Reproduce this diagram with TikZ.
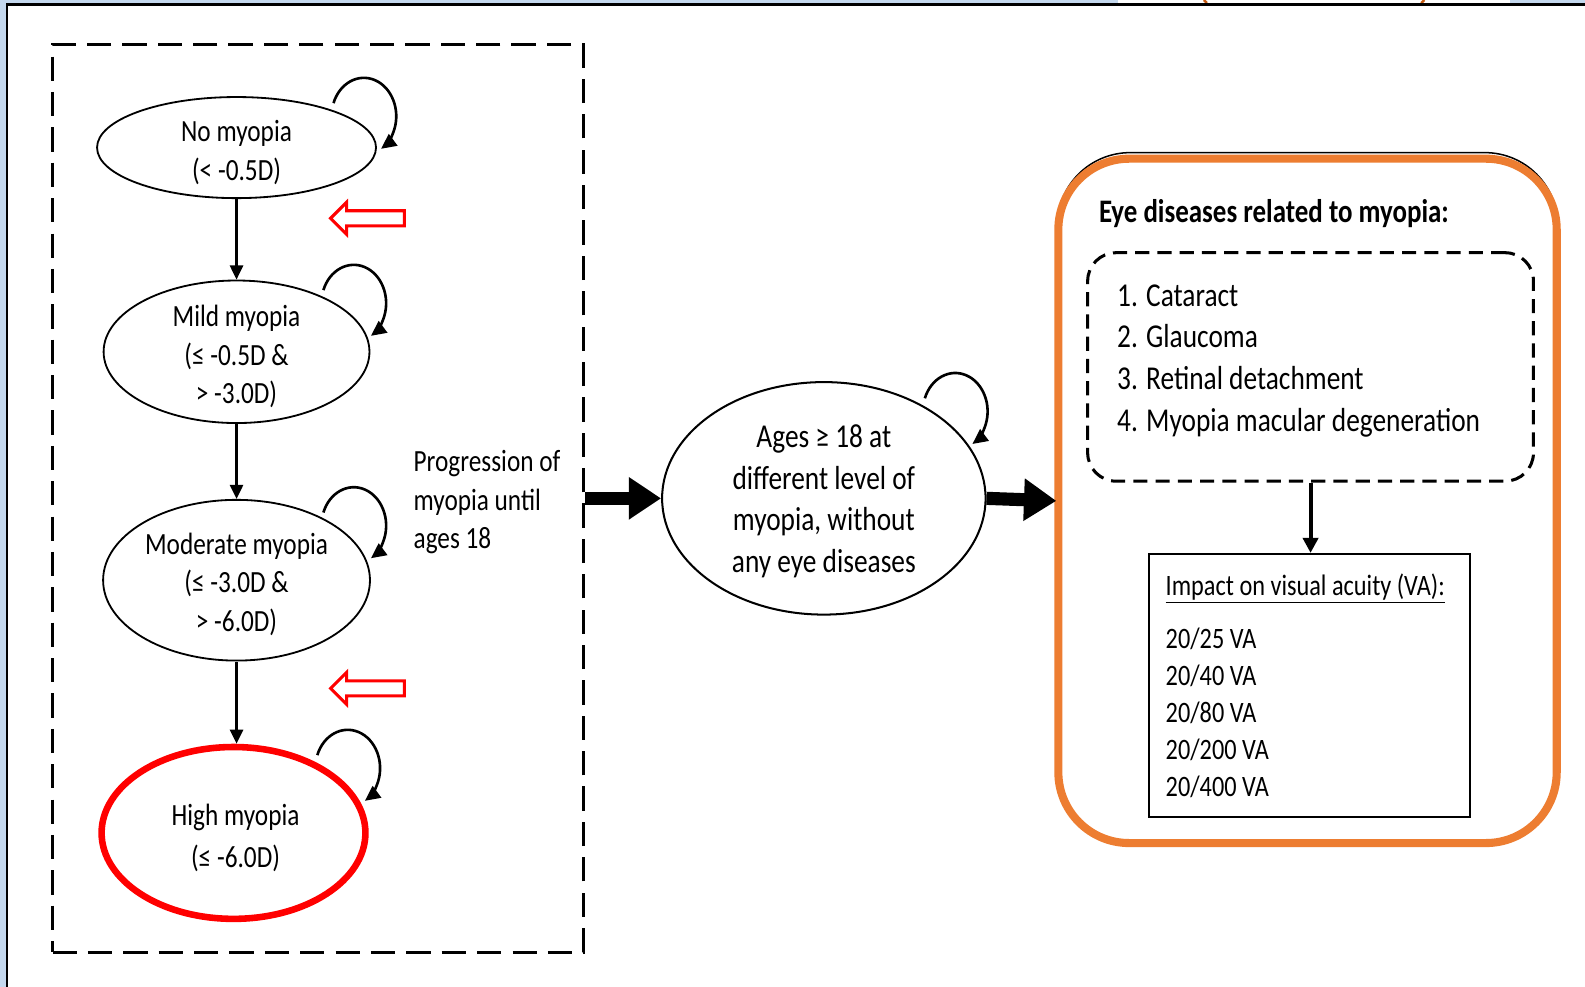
\documentclass[tikz,border=0pt]{standalone}
\usepackage{fontspec}
\setmainfont{Carlito}[FakeStretch=0.82]
\usetikzlibrary{arrows.meta,shapes.geometric,calc}
\definecolor{boxorange}{RGB}{237,125,49}
\definecolor{darkorange}{RGB}{197,90,17}
\definecolor{frameblue}{RGB}{196,216,238}
\newcommand\selfloop[3]{\draw[loopline] ($(#1.center)+(#2,#3)$) ++(200:32 and 38) arc[start angle=200, end angle=418, x radius=32, y radius=38];}
\begin{document}
\begin{tikzpicture}[x=1pt,y=-1pt,
  txt/.style={inner sep=0pt, align=center, font=\fontsize{30.5}{38}\selectfont},
  state/.style={ellipse, draw, line width=1.8pt, inner sep=0pt},
  flow/.style={line width=2.4pt, -{Triangle[length=14pt,width=13pt]}},
  bigflow/.style={line width=13pt, -{Triangle[length=32pt,width=40pt]}},
  loopline/.style={line width=2.6pt, -{Triangle[length=15pt,width=14pt]}},
  hollow/.style={draw=red, line width=3pt, fill=white, line join=miter},
]
\path[use as bounding box] (0,0) rectangle (1568,976);
\fill[white] (0,0) rectangle (1568,976);
\fill[frameblue] (0,0) rectangle (6,976);
\fill[frameblue] (0,0) rectangle (1568,3);
\fill[white] (1106,0) rectangle (1494,3);
\draw[darkorange, line width=2.5pt] (1191,0) -- (1194,3);
\draw[darkorange, line width=2.5pt] (1409,0) -- (1406,3);
\draw[black, line width=2pt] (7,3) -- (7,976);
\draw[black, line width=3pt] (6,4.5) -- (1568,4.5);

% progression block
\node[draw, dash pattern=on 24pt off 11pt, line width=3pt, minimum width=525pt, minimum height=898pt, inner sep=0pt] (prog) at (314.5,493) {};

\node[state, minimum width=276pt, minimum height=100pt] (s1) at (234,146) {};
\node[txt] (t1) at (234,151) {No myopia\\(< -0.5D)};
\node[state, minimum width=263pt, minimum height=141pt] (s2) at (234,348) {};
\node[txt] (t2) at (234,353) {Mild myopia\\(≤ -0.5D \&\\> -3.0D)};
\node[state, minimum width=264pt, minimum height=159pt] (s3) at (234,574) {};
\node[txt] (t3) at (234,578) {Moderate myopia\\(≤ -3.0D \&\\> -6.0D)};
\node[state, draw=red, line width=6.5pt, minimum width=261pt, minimum height=170pt] (s4) at (231,824) {};
\node[txt, font=\fontsize{30.5}{41}\selectfont] (t4) at (233,829) {High myopia\\(≤ -6.0D)};

\draw[flow] (s1.south) -- (s2.north);
\draw[flow] (s2.south) -- (s3.north);
\draw[flow] (s3.south) -- (s3.south |- s4.north);

\selfloop{s1}{126}{-31}
\selfloop{s2}{116}{-48}
\selfloop{s3}{116}{-54}
\selfloop{s4}{113}{-64}

\draw[hollow] (327,216) -- (343,200) -- (343,208.5) -- (400,208.5) -- (400,223.5) -- (343,223.5) -- (343,232) -- cycle;
\draw[hollow] (327,681) -- (343,665) -- (343,673.5) -- (400,673.5) -- (400,688.5) -- (343,688.5) -- (343,697) -- cycle;

\node[inner sep=0pt, align=left, anchor=west, font=\fontsize{30.5}{38}\selectfont] (ptxt) at (409,497) {Progression of\\myopia until\\ages 18};

% middle state
\node[state, line width=2pt, minimum width=320pt, minimum height=230pt] (mid) at (815,493) {};
\node[txt, font=\fontsize{33}{41.3}\selectfont] (tm) at (815,496) {Ages ≥ 18 at\\different level of\\myopia, without\\any eye diseases};
\selfloop{mid}{130}{-86}

% eye diseases box
\draw[line width=1.5pt, rounded corners=72pt] (1046,151) rectangle (1541,834);
\node[draw=boxorange, line width=8pt, rounded corners=70pt, minimum width=493pt, minimum height=677pt, inner sep=0pt] (eye) at (1293.5,495.5) {};
\node[inner sep=0pt, anchor=west, font=\bfseries\fontsize{32.5}{40}\selectfont] (title) at (1087,211) {Eye diseases related to myopia:};
\node[draw, dash pattern=on 14pt off 8pt, line width=3pt, rounded corners=28pt, minimum width=441pt, minimum height=226pt, inner sep=0pt] (dis) at (1296.5,363) {};
\node[inner sep=0pt, align=left, anchor=west, font=\fontsize{33}{41.3}\selectfont] (list) at (1105,357) {1. Cataract\\2. Glaucoma\\3. Retinal detachment\\4. Myopia macular degeneration};
\node[draw, line width=2pt, minimum width=317pt, minimum height=260pt, inner sep=0pt] (imp) at (1295.5,678) {};
\node[inner sep=0pt, anchor=west, font=\fontsize{29.3}{36}\selectfont] (imphead) at (1153,582) {\underline{Impact on visual acuity (VA):}};
\node[inner sep=0pt, align=left, anchor=west, font=\fontsize{29.3}{36.5}\selectfont] (va) at (1153,705) {20/25 VA\\20/40 VA\\20/80 VA\\20/200 VA\\20/400 VA};
\draw[line width=4pt, -{Triangle[length=15pt,width=15pt]}] (dis.south) -- (dis.south |- imp.north);

% big arrows
\draw[bigflow] (prog.east |- mid.west) -- (mid.west);
\draw[bigflow] (mid.east) -- ([xshift=2pt]eye.west);
\end{tikzpicture}
\end{document}
